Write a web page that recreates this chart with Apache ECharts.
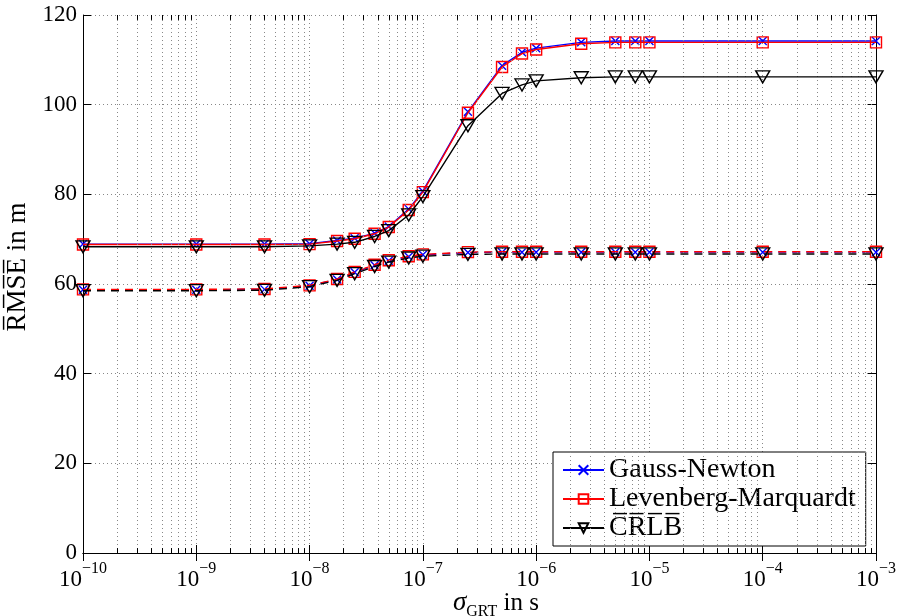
<!DOCTYPE html>
<html><head><meta charset="utf-8">
<script src="https://cdn.jsdelivr.net/npm/echarts@6/dist/echarts.min.js"></script>
<style>html,body{margin:0;padding:0;background:#fff}#c{width:897px;height:616px}</style>
</head><body><div id="c"></div>
<script>
const sigma = [1e-10,1e-9,4e-9,1e-8,1.75e-8,2.5e-8,3.75e-8,5e-8,7.5e-8,1e-7,2.5e-7,5e-7,7.5e-7,1e-6,2.5e-6,5e-6,7.5e-6,1e-5,1e-4,1e-3];
const gnSolid    = [68.9,68.9,68.9,69.0,69.7,70.2,71.3,72.8,76.7,80.7,98.4,108.7,111.7,112.6,113.9,114.2,114.2,114.2,114.2,114.2];
const lmSolid    = [68.8,68.8,68.8,68.9,69.6,70.1,71.2,72.7,76.5,80.5,98.2,108.4,111.4,112.3,113.6,113.9,113.9,113.9,113.9,113.9];
const crlbSolid  = [68.3,68.3,68.3,68.5,68.9,69.3,70.6,71.9,75.4,79.5,95.3,102.5,104.4,105.3,106.0,106.2,106.2,106.2,106.2,106.2];
const gnDashed   = [58.7,58.7,58.8,59.6,61.0,62.6,64.2,65.2,66.1,66.5,67.0,67.1,67.1,67.1,67.1,67.1,67.1,67.1,67.1,67.1];
const lmDashed   = [58.8,58.8,58.9,59.7,61.1,62.7,64.3,65.3,66.2,66.6,67.1,67.2,67.2,67.2,67.2,67.2,67.2,67.2,67.2,67.2];
const crlbDashed = [58.5,58.5,58.6,59.4,60.8,62.3,63.9,64.9,65.8,66.2,66.6,66.7,66.7,66.7,66.7,66.7,66.7,66.7,66.7,66.7];
const seriesNames = ['Gauss-Newton','Levenberg-Marquardt','C\u0305R\u0305L\u0305B\u0305'];
const yTicks = [0,20,40,60,80,100,120];
const xDecades = [-10,-9,-8,-7,-6,-5,-4,-3];

const FONT = '"Liberation Serif", "DejaVu Serif", serif';
const minorX = [];
for (let d = -10; d < -3; d++) for (let k = 2; k <= 9; k++) minorX.push(k * Math.pow(10, d));

const pair = (xs, ys) => xs.map((x, i) => [x, ys[i]]);
const crossPath = 'path://M0,0L10,10M10,0L0,10';
const styles = [
  {color:'#0000ff', symbol: crossPath, symbolSize: 8, symbolRotate: 0},
  {color:'#ff0000', symbol: 'rect', symbolSize: 11, symbolRotate: 0},
  {color:'#000000', symbol: 'triangle', symbolSize: [14, 12], symbolRotate: 180}
];
function mk(idx, data, dashed) {
  const s = styles[idx];
  return {
    type: 'line', name: seriesNames[idx], data: pair(sigma, data),
    symbol: s.symbol, symbolSize: s.symbolSize, symbolRotate: s.symbolRotate,
    showSymbol: true, animation: false,
    lineStyle: {color: s.color, width: 1.4, type: dashed ? [8, 6] : 'solid'},
    itemStyle: {color: 'rgba(0,0,0,0)', borderColor: s.color, borderWidth: 1.4},
    emphasis: {disabled: true}, z: 3 + idx
  };
}
const gridLine = {type: [1, 3], color: '#888', width: 1};
const helper = {
  type: 'line', name: 'helper', data: [], silent: true, z: 1,
  markLine: {
    silent: true, symbol: 'none', animation: false, label: {show: false},
    lineStyle: gridLine,
    data: minorX.map(x => [{coord: [x, 0]}, {coord: [x, 120]}])
  }
};
const helperTicks = {
  type: 'line', name: 'helper2', data: [], silent: true, z: 2,
  markLine: {
    silent: true, symbol: 'none', animation: false, label: {show: false},
    lineStyle: {type: 'solid', color: '#000', width: 1},
    data: minorX.map(x => [{coord: [x, 0]}, {coord: [x, 1.1]}])
      .concat(minorX.map(x => [{coord: [x, 120]}, {coord: [x, 118.9]}]))
  }
};

const chart = echarts.init(document.getElementById('c'), null, {renderer: 'canvas'});
chart.setOption({
  backgroundColor: '#fff',
  animation: false,
  grid: {left: 83, right: 21, top: 15, bottom: 63, containLabel: false, outerBoundsMode: 'none'},
  legend: {
    data: seriesNames, orient: 'vertical', left: 553, top: 452,
    backgroundColor: '#fff', borderColor: '#000', borderWidth: 1,
    padding: [4, 10, 4, 9], itemGap: 1, itemWidth: 41, itemHeight: 12,
    textStyle: {fontFamily: FONT, fontSize: 28, color: '#000'},
    selectedMode: false
  },
  xAxis: [{
    type: 'log', logBase: 10, min: 1e-10, max: 1e-3, position: 'bottom',
    axisLine: {lineStyle: {color: '#000', width: 1}},
    axisTick: {inside: true, length: 8, lineStyle: {color: '#000'}},
    splitLine: {show: true, lineStyle: gridLine},
    axisLabel: {
      margin: 8,
      formatter: v => { const e = Math.round(Math.log10(v)); return '{b|10}{s|' + (e < 0 ? '\u2212' + (-e) : e) + '}'; },
      rich: {
        b: {fontFamily: FONT, fontSize: 23, color: '#000', verticalAlign: 'bottom', lineHeight: 30},
        s: {fontFamily: FONT, fontSize: 16, color: '#000', verticalAlign: 'top', lineHeight: 30}
      }
    },
    name: '{i|\u03c3}{sub|GRT}{n| in s}', nameLocation: 'middle', nameGap: 36, nameMoveOverlap: false,
    nameTextStyle: {
      padding: [0, 0, 0, 33],
      rich: {
        i: {fontFamily: FONT, fontStyle: 'italic', fontSize: 27, color: '#000', verticalAlign: 'bottom'},
        sub: {fontFamily: FONT, fontSize: 16, color: '#000', verticalAlign: 'bottom', padding: [0, 0, -4, 0]},
        n: {fontFamily: FONT, fontSize: 25, color: '#000', verticalAlign: 'bottom'}
      }
    }
  }, {
    type: 'log', logBase: 10, min: 1e-10, max: 1e-3, position: 'top',
    axisLine: {lineStyle: {color: '#000', width: 1}},
    axisTick: {inside: true, length: 8, lineStyle: {color: '#000'}},
    axisLabel: {show: false}, splitLine: {show: false}
  }],
  yAxis: [{
    type: 'value', min: 0, max: 120, interval: 20, position: 'left',
    axisLine: {show: true, lineStyle: {color: '#000', width: 1}},
    axisTick: {show: true, inside: true, length: 8, lineStyle: {color: '#000'}},
    splitLine: {show: true, lineStyle: gridLine},
    axisLabel: {fontFamily: FONT, fontSize: 23, color: '#000', margin: 6},
    name: 'R\u0305M\u0305S\u0305E\u0305 in m', nameLocation: 'middle', nameGap: 52, nameMoveOverlap: false,
    nameTextStyle: {fontFamily: FONT, fontSize: 27, color: '#000', padding: [0, 0, 0, 34]}
  }, {
    type: 'value', min: 0, max: 120, interval: 20, position: 'right',
    axisLine: {show: true, lineStyle: {color: '#000', width: 1}},
    axisTick: {show: true, inside: true, length: 8, lineStyle: {color: '#000'}},
    splitLine: {show: false}, axisLabel: {show: false}
  }],
  series: [
    helper, helperTicks,
    mk(0, gnSolid, false), mk(1, lmSolid, false), mk(2, crlbSolid, false),
    mk(0, gnDashed, true), mk(1, lmDashed, true), mk(2, crlbDashed, true)
  ]
});
</script></body></html>
